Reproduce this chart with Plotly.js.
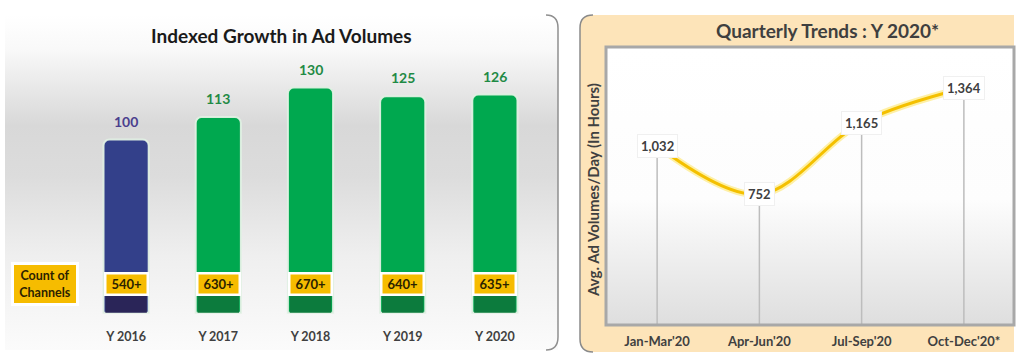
<!DOCTYPE html>
<html>
<head>
<meta charset="utf-8">
<script src="https://cdn.plot.ly/plotly-3.0.1.min.js"></script>
<style>html,body{margin:0;padding:0;background:#fff;}#chart{width:1024px;height:362px;}</style>
</head>
<body>
<div id="chart"></div>
<script>
// ---- data ----
const years = ['Y 2016', 'Y 2017', 'Y 2018', 'Y 2019', 'Y 2020'];
const indexValues = [100, 113, 130, 125, 126];
const channelCounts = ['540+', '630+', '670+', '640+', '635+'];
const quarters = ["Jan-Mar'20", "Apr-Jun'20", "Jul-Sep'20", "Oct-Dec'20*"];
const adHours = [1032, 752, 1165, 1364];

// ---- helpers / styles ----
const W = 1024, H = 362;
const px = x => x / W;
const py = y => 1 - y / H;
const FONT = 'Lato, "Open Sans", sans-serif';
const BOTTOM_BAND = 10;      // dark foot of each bar (axis units)
const CHANNEL_Y = 16.5;      // vertical spot of channel-count tags (axis units)

const topColors = indexValues.map((v, i) => i === 0 ? '#33408A' : '#00A84F');
const footColors = indexValues.map((v, i) => i === 0 ? '#2A2558' : '#0C7B3D');
const labelColors = indexValues.map((v, i) => i === 0 ? '#4B3F8E' : '#1F8A45');

function svgURI(svg) { return 'data:image/svg+xml;charset=utf-8,' + encodeURIComponent(svg); }

const leftBg = svgURI('<svg xmlns="http://www.w3.org/2000/svg" width="553" height="335" viewBox="0 0 553 335" preserveAspectRatio="none"><defs><linearGradient id="g" x1="0" y1="0" x2="0" y2="1"><stop offset="0" stop-color="#ffffff"/><stop offset="0.1" stop-color="#f9f9f9"/><stop offset="0.33" stop-color="#d8d8d8"/><stop offset="0.48" stop-color="#dcdcdc"/><stop offset="0.72" stop-color="#efefef"/><stop offset="1" stop-color="#fbfbfb"/></linearGradient></defs><rect width="553" height="335" fill="url(#g)"/></svg>');
const rightBg = svgURI('<svg xmlns="http://www.w3.org/2000/svg" width="434" height="337" viewBox="0 0 434 337" preserveAspectRatio="none"><defs><linearGradient id="p" x1="0" y1="0" x2="0" y2="1"><stop offset="0" stop-color="#ffffff"/><stop offset="0.55" stop-color="#fdfdfd"/><stop offset="1" stop-color="#dedede"/></linearGradient></defs><rect x="0" y="0" width="434" height="337" rx="12" ry="12" fill="#FDE4B9"/><rect x="20" y="0" width="414" height="337" fill="#FDE4B9"/><rect x="26" y="32" width="408" height="278" fill="url(#p)"/></svg>');

// ---- traces ----
const barMain = {
  type: 'bar', x: years, y: indexValues, xaxis: 'x', yaxis: 'y',
  width: 0.49,
  marker: { color: topColors, cornerradius: 6, line: { color: 'rgba(225,240,228,0.95)', width: 2 } },
  hoverinfo: 'skip'
};
const barFoot = {
  type: 'bar', x: years, y: years.map(() => BOTTOM_BAND), xaxis: 'x', yaxis: 'y',
  width: 0.45,
  marker: { color: footColors, line: { width: 0 } },
  hoverinfo: 'skip'
};
const lineGlow = {
  type: 'scatter', mode: 'lines', x: quarters, y: adHours, xaxis: 'x2', yaxis: 'y2',
  line: { shape: 'spline', smoothing: 1, color: 'rgba(255,215,0,0.35)', width: 7 },
  error_y: { type: 'data', symmetric: false, array: adHours.map(() => 0), arrayminus: adHours, color: '#BDBDBD', thickness: 1.5, width: 0 },
  hoverinfo: 'skip'
};
const line = {
  type: 'scatter', mode: 'lines', x: quarters, y: adHours, xaxis: 'x2', yaxis: 'y2',
  line: { shape: 'spline', smoothing: 1, color: '#F4C000', width: 3 },
  hoverinfo: 'skip'
};

// ---- annotations ----
const annotations = [];
const paperNote = o => Object.assign({ xref: 'paper', yref: 'paper', xanchor: 'center', yanchor: 'middle', showarrow: false }, o);
annotations.push(paperNote({ x: px(281), y: py(35), text: '<b>Indexed Growth in Ad Volumes</b>', font: { family: FONT, size: 19, color: '#1a1a1a' } }));
annotations.push(paperNote({ x: px(827), y: py(30), text: '<b>Quarterly Trends : Y 2020*</b>', font: { family: FONT, size: 19, color: '#3f3f3f' } }));
annotations.push(paperNote({ x: px(593), y: py(190), textangle: -90, text: '<b>Avg. Ad Volumes/Day (In Hours)</b>', font: { family: FONT, size: 15, color: '#404040' } }));
annotations.push(paperNote({ x: px(45), y: py(284), text: '<b>Count of<br>Channels</b>', width: 62, height: 38, bgcolor: '#F6BC00', bordercolor: '#ffffff', borderwidth: 3, borderpad: 0, font: { family: FONT, size: 12.5, color: '#2b2200' } }));
years.forEach((yr, i) => {
  annotations.push({ x: yr, y: indexValues[i], xref: 'x', yref: 'y', xanchor: 'center', yanchor: 'bottom', yshift: 8, text: '<b>' + indexValues[i] + '</b>', showarrow: false, font: { family: FONT, size: 14, color: labelColors[i] } });
  annotations.push({ x: yr, y: CHANNEL_Y, xref: 'x', yref: 'y', xanchor: 'center', yanchor: 'middle', text: '<b>' + channelCounts[i] + '</b>', showarrow: false, width: 40, height: 19, bgcolor: '#F6BC00', bordercolor: '#ffffff', borderwidth: 2.5, borderpad: 0, font: { family: FONT, size: 13, color: '#2b2200' } });
});
quarters.forEach((q, i) => {
  annotations.push({ x: q, y: adHours[i], xref: 'x2', yref: 'y2', xanchor: 'center', yanchor: 'middle', text: '<b>' + adHours[i].toLocaleString('en-US') + '</b>', showarrow: false, bgcolor: '#ffffff', bordercolor: '#f0f0f0', borderwidth: 1, borderpad: 3, font: { family: FONT, size: 13, color: '#404040' } });
});

// ---- shapes ----
const p = (x, y) => px(x).toFixed(5) + ',' + py(y).toFixed(5);
const shapes = [
  { type: 'path', xref: 'paper', yref: 'paper', path: 'M ' + p(546, 15) + ' Q ' + p(558, 15) + ' ' + p(558, 28) + ' L ' + p(558, 337) + ' Q ' + p(558, 350) + ' ' + p(546, 350), line: { color: '#8f8f8f', width: 1.5 } },
  { type: 'path', xref: 'paper', yref: 'paper', path: 'M ' + p(593, 15) + ' Q ' + p(580, 15) + ' ' + p(580, 28) + ' L ' + p(580, 339) + ' Q ' + p(580, 352) + ' ' + p(593, 352), line: { color: '#8a8a8a', width: 1.5 } },
  { type: 'rect', xref: 'paper', yref: 'paper', x0: px(606), x1: px(1014), y0: py(325), y1: py(47), line: { color: '#a8a8a8', width: 3 }, fillcolor: 'rgba(0,0,0,0)', layer: 'above' }
];

const layout = {
  width: W, height: H,
  margin: { l: 0, r: 0, t: 0, b: 0 },
  paper_bgcolor: '#ffffff', plot_bgcolor: 'rgba(0,0,0,0)',
  showlegend: false, barmode: 'overlay',
  font: { family: FONT },
  xaxis: { domain: [px(80), px(541)], range: [-0.5, 4.5], type: 'category', showgrid: false, zeroline: false, showline: false, ticks: '', tickfont: { family: FONT, size: 12.5, color: '#404040' }, tickprefix: '<b>', ticksuffix: '</b>', ticklabelstandoff: 2 },
  yaxis: { domain: [py(325), py(20)], range: [-7, 169], visible: false },
  xaxis2: { domain: [px(606), px(1015)], range: [-0.5, 3.5], type: 'category', showgrid: false, zeroline: false, showline: false, ticks: '', tickfont: { family: FONT, size: 13, color: '#404040' }, tickprefix: '<b>', ticksuffix: '</b>', ticklabelstandoff: 7 },
  yaxis2: { domain: [py(325), py(47)], range: [0, 1600], visible: false },
  images: [
    { source: leftBg, xref: 'paper', yref: 'paper', x: px(5), y: py(15), sizex: 553 / W, sizey: 335 / H, xanchor: 'left', yanchor: 'top', sizing: 'stretch', layer: 'below' },
    { source: rightBg, xref: 'paper', yref: 'paper', x: px(580), y: py(15), sizex: 434 / W, sizey: 337 / H, xanchor: 'left', yanchor: 'top', sizing: 'stretch', layer: 'below' }
  ],
  shapes: shapes,
  annotations: annotations
};

Plotly.newPlot('chart', [barMain, barFoot, lineGlow, line], layout, { staticPlot: true, displayModeBar: false });
</script>
</body>
</html>
